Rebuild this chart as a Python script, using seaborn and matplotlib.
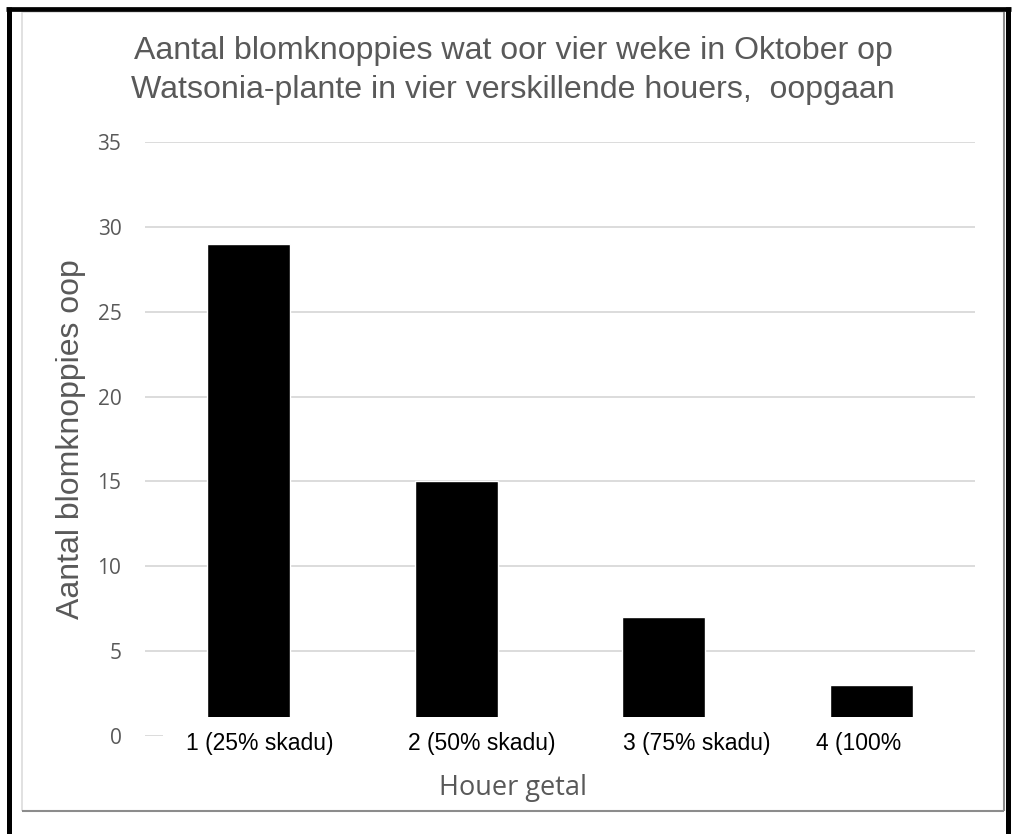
import matplotlib
matplotlib.use("Agg")
import matplotlib.pyplot as plt
import seaborn as sns
from matplotlib.patches import Rectangle
from matplotlib.lines import Line2D
from matplotlib.transforms import ScaledTranslation

# data
houers = ['1 (25% skadu)', '2 (50% skadu)', '3 (75% skadu)', '4 (100%']
blomknoppies = [29, 15, 7, 3]
y_ticks = [0, 5, 10, 15, 20, 25, 30, 35]

title = 'Aantal blomknoppies wat oor vier weke in Oktober op\nWatsonia-plante in vier verskillende houers,  oopgaan'
x_title = 'Houer getal'
y_title = 'Aantal blomknoppies oop'

sns.set_theme(style='white')
plt.rcParams['font.family'] = ['Liberation Sans', 'DejaVu Sans']

W, H = 1026, 834
fig = plt.figure(figsize=(W / 100, H / 100), dpi=100)
fig.patch.set_facecolor('white')

# plot area in pixels: x 145..975, y 142 (35) .. 736 (0)
ax = fig.add_axes([145 / W, 1 - 736 / H, 830 / W, 594 / H])
sns.barplot(x=houers, y=blomknoppies, color='black', saturation=1,
            width=0.4, errorbar=None, ax=ax, zorder=2)

ax.set_ylim(0, 35)
ax.set_yticks(y_ticks)
ax.set_axisbelow(True)
ax.yaxis.grid(True, color='#d9d9d9', lw=1.3)
ax.xaxis.grid(False)
for s in ax.spines.values():
    s.set_visible(False)
ax.tick_params(axis='y', length=0, pad=17, labelcolor='#595959')
for lab in ax.get_yticklabels():
    lab.set_fontfamily('Open Sans')
    lab.set_fontsize(15)
ax.tick_params(axis='x', bottom=False, labelbottom=False)
ax.set_xlabel('')
ax.set_ylabel('')

# white label band that sits over the foot of the bars (as in the Excel chart)
ax.add_patch(Rectangle((18 / 830, -0.02), 1.02, 0.02 + 19 / 594,
                       transform=ax.transAxes, facecolor='white',
                       edgecolor='none', zorder=3, clip_on=False))

# category labels
label_shift_px = [11, 25, 33, -13]
for i, lab in enumerate(houers):
    tr = ax.get_xaxis_transform() + ScaledTranslation(
        label_shift_px[i] / 100, -14 / 100, fig.dpi_scale_trans)
    ax.text(i, 0, lab, transform=tr, ha='center', va='baseline',
            fontsize=16.5, color='black', zorder=4, clip_on=False)

# titles
fig.text(0.5, 1 - 98 / H, title, ha='center', va='baseline',
         multialignment='center', fontsize=23.1, color='#595959',
         linespacing=1.40)
fig.text(513 / W, 1 - 795 / H, x_title, ha='center', va='baseline',
         fontsize=19.5, color='#595959', family='Open Sans')
fig.text(71 / W, 1 - 439 / H, y_title, ha='center', va='center',
         rotation=90, fontsize=23, color='#595959')

# chart frame
def px_line(x0, y0, x1, y1, color, lw):
    fig.add_artist(Line2D([x0 / W, x1 / W], [1 - y0 / H, 1 - y1 / H],
                          transform=fig.transFigure, color=color, lw=lw,
                          solid_capstyle='butt'))

px_line(22, 12, 1004, 12, '#d9d9d9', 1.1)
px_line(22, 12, 22, 811, '#d9d9d9', 1.1)
px_line(22, 811, 1004, 811, '#8c8c8c', 1.5)
px_line(1003.5, 12, 1003.5, 811, '#8c8c8c', 1.5)

# outer black border
px_line(6, 9, 1011, 9, 'black', 3.4)
px_line(8.5, 7, 8.5, H, 'black', 3.6)
px_line(1008, 7, 1008, H, 'black', 3.6)

fig.savefig('out.png', dpi=100)
